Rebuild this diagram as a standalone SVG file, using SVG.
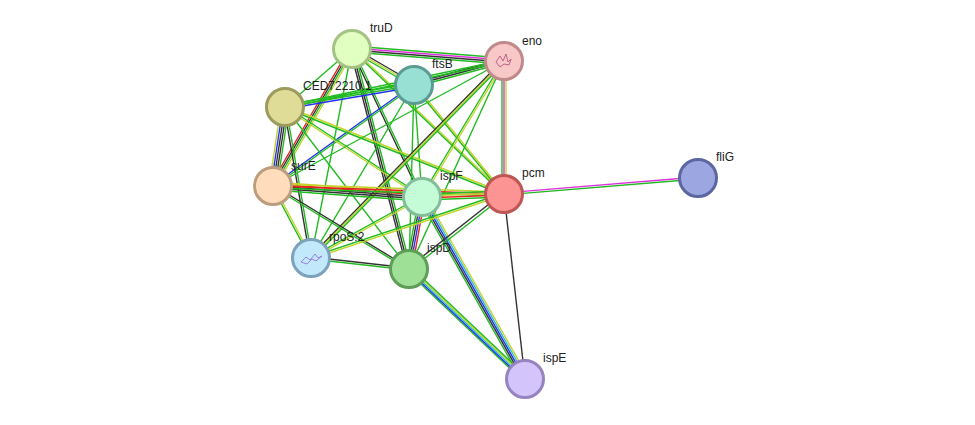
<svg xmlns="http://www.w3.org/2000/svg" xmlns:xlink="http://www.w3.org/1999/xlink" width="975" height="425" viewBox="0 0 975 425">
<style>
use{stroke-width:1.4;fill:none}
.g{stroke:#22bb22}.y{stroke:#c2d42a}.k{stroke:#333}.r{stroke:#e8221e}.b{stroke:#2233ee}.m{stroke:#dd33dd}.c{stroke:#33bbdd}
.node circle{stroke-width:3}
text{font-family:"Liberation Sans",Arial,sans-serif;font-size:12px;fill:#222}
</style>
<defs>
<line id="TE" x1="352" y1="49" x2="504" y2="61"/><line id="TF" x1="352" y1="49" x2="414" y2="85"/>
<line id="TC" x1="352" y1="49" x2="285" y2="107"/><line id="TS" x1="352" y1="49" x2="273" y2="186"/>
<line id="TI" x1="352" y1="49" x2="422" y2="197"/><line id="TD" x1="352" y1="49" x2="409" y2="269"/>
<line id="TR" x1="352" y1="49" x2="311" y2="258"/><line id="TP" x1="352" y1="49" x2="504" y2="194"/>
<line id="FE" x1="414" y1="85" x2="504" y2="61"/><line id="FC" x1="414" y1="85" x2="285" y2="107"/>
<line id="FS" x1="414" y1="85" x2="273" y2="186"/><line id="FI" x1="414" y1="85" x2="422" y2="197"/>
<line id="FP" x1="414" y1="85" x2="504" y2="194"/><line id="FR" x1="414" y1="85" x2="311" y2="258"/>
<line id="FD" x1="414" y1="85" x2="409" y2="269"/>
<line id="CE" x1="285" y1="107" x2="504" y2="61"/><line id="CS" x1="285" y1="107" x2="273" y2="186"/>
<line id="CI" x1="285" y1="107" x2="422" y2="197"/><line id="CP" x1="285" y1="107" x2="504" y2="194"/>
<line id="CR" x1="285" y1="107" x2="311" y2="258"/><line id="CD" x1="285" y1="107" x2="409" y2="269"/>
<line id="EP" x1="504" y1="61" x2="504" y2="194"/><line id="EI" x1="504" y1="61" x2="422" y2="197"/>
<line id="ER" x1="504" y1="61" x2="311" y2="258"/><line id="ED" x1="504" y1="61" x2="409" y2="269"/>
<line id="ES" x1="504" y1="61" x2="273" y2="186"/>
<line id="SI" x1="273" y1="186" x2="422" y2="197"/><line id="SP" x1="273" y1="186" x2="504" y2="194"/>
<line id="SR" x1="273" y1="186" x2="311" y2="258"/><line id="SD" x1="273" y1="186" x2="409" y2="269"/>
<line id="IP" x1="422" y1="197" x2="504" y2="194"/><line id="IR" x1="422" y1="197" x2="311" y2="258"/>
<line id="ID" x1="422" y1="197" x2="409" y2="269"/><line id="IX" x1="422" y1="197" x2="525" y2="379"/>
<line id="PD" x1="504" y1="194" x2="409" y2="269"/><line id="PR" x1="504" y1="194" x2="311" y2="258"/>
<line id="PG" x1="504" y1="194" x2="698" y2="178"/><line id="PX" x1="504" y1="194" x2="525" y2="379"/>
<line id="DX" x1="409" y1="269" x2="525" y2="379"/><line id="RD" x1="311" y1="258" x2="409" y2="269"/>
</defs>
<g id="edges">
<use href="#TE" class="g" transform="translate(0,-3)"/><use href="#TE" class="m" transform="translate(0,-1)"/><use href="#TE" class="k" transform="translate(0,1)"/><use href="#TE" class="g" transform="translate(0,3)"/>
<use href="#TF" class="k" transform="translate(0,-2)"/><use href="#TF" class="y"/><use href="#TF" class="g" transform="translate(0,2)"/>
<use href="#TC" class="g"/>
<use href="#TS" class="r" transform="translate(-3,0)"/><use href="#TS" class="k" transform="translate(-1,0)"/><use href="#TS" class="g" transform="translate(1,0)"/><use href="#TS" class="y" transform="translate(3,0)"/>
<use href="#TI" class="k" transform="translate(-1,0)"/><use href="#TI" class="g" transform="translate(1,0)"/>
<use href="#TD" class="k" transform="translate(-2,0)"/><use href="#TD" class="k"/><use href="#TD" class="g" transform="translate(2,0)"/>
<use href="#TR" class="g"/>
<use href="#TP" class="y" transform="translate(0,-1)"/><use href="#TP" class="g" transform="translate(0,1)"/>
<use href="#FE" class="k" transform="translate(0,-2)"/><use href="#FE" class="k"/><use href="#FE" class="g" transform="translate(0,2)"/>
<use href="#FC" class="g" transform="translate(0,-2)"/><use href="#FC" class="g"/><use href="#FC" class="b" transform="translate(0,2)"/>
<use href="#FS" class="b" transform="translate(0,-1)"/><use href="#FS" class="g" transform="translate(0,1)"/>
<use href="#FI" class="g"/>
<use href="#FP" class="g" transform="translate(-1,0)"/><use href="#FP" class="y" transform="translate(1,0)"/>
<use href="#FR" class="g"/><use href="#FD" class="g"/>
<use href="#CE" class="g" transform="translate(0,-1)"/><use href="#CE" class="g" transform="translate(0,1)"/>
<use href="#CS" class="y" transform="translate(-4,0)"/><use href="#CS" class="b" transform="translate(-2,0)"/><use href="#CS" class="k"/><use href="#CS" class="k" transform="translate(2,0)"/><use href="#CS" class="g" transform="translate(4,0)"/>
<use href="#CI" class="g" transform="translate(0,-1)"/><use href="#CI" class="y" transform="translate(0,1)"/>
<use href="#CP" class="y" transform="translate(0,-1)"/><use href="#CP" class="g" transform="translate(0,1)"/>
<use href="#CR" class="k" transform="translate(-1,0)"/><use href="#CR" class="g" transform="translate(1,0)"/>
<use href="#CD" class="g"/>
<use href="#EP" class="g" transform="translate(-2,0)"/><use href="#EP" class="m"/><use href="#EP" class="y" transform="translate(2,0)"/>
<use href="#EI" class="g" transform="translate(-1,0)"/><use href="#EI" class="y" transform="translate(1,0)"/>
<use href="#ER" class="k" transform="translate(-2,0)"/><use href="#ER" class="y"/><use href="#ER" class="g" transform="translate(2,0)"/>
<use href="#ED" class="g"/><use href="#ES" class="g"/>
<use href="#SI" class="y" transform="translate(0,-4)"/><use href="#SI" class="r" transform="translate(0,-2)"/><use href="#SI" class="k"/><use href="#SI" class="k" transform="translate(0,2)"/><use href="#SI" class="g" transform="translate(0,4)"/>
<use href="#SP" class="y" transform="translate(0,-2)"/><use href="#SP" class="r"/><use href="#SP" class="g" transform="translate(0,2)"/>
<use href="#SR" class="g" transform="translate(-1,0)"/><use href="#SR" class="y" transform="translate(1,0)"/>
<use href="#SD" class="k" transform="translate(0,-1)"/><use href="#SD" class="g" transform="translate(0,1)"/>
<use href="#IP" class="g" transform="translate(0,-3)"/><use href="#IP" class="y" transform="translate(0,-1)"/><use href="#IP" class="r" transform="translate(0,1)"/><use href="#IP" class="g" transform="translate(0,3)"/>
<use href="#IR" class="g" transform="translate(0,-1)"/><use href="#IR" class="y" transform="translate(0,1)"/>
<use href="#ID" class="g" transform="translate(-3,0)"/><use href="#ID" class="k" transform="translate(-1,0)"/><use href="#ID" class="b" transform="translate(1,0)"/><use href="#ID" class="r" transform="translate(3,0)"/>
<use href="#IX" class="g" transform="translate(-4,0)"/><use href="#IX" class="k" transform="translate(-2,0)"/><use href="#IX" class="b"/><use href="#IX" class="c" transform="translate(2,0)"/><use href="#IX" class="y" transform="translate(4,0)"/>
<use href="#PD" class="k" transform="translate(-1,-1)"/><use href="#PD" class="g" transform="translate(1,1)"/>
<use href="#PR" class="g" transform="translate(0,-1)"/><use href="#PR" class="y" transform="translate(0,1)"/>
<use href="#PG" class="m" transform="translate(0,-1)"/><use href="#PG" class="g" transform="translate(0,1)"/>
<use href="#PX" class="k"/>
<use href="#DX" class="g" transform="translate(-4,0)"/><use href="#DX" class="b" transform="translate(-2,0)"/><use href="#DX" class="c"/><use href="#DX" class="y" transform="translate(2,0)"/><use href="#DX" class="g" transform="translate(4,0)"/>
<use href="#RD" class="k" transform="translate(0,-1)"/><use href="#RD" class="g" transform="translate(0,1)"/>
</g>
<g id="truD" class="node"><circle cx="352" cy="49" r="18.5" fill="#e0ffc0" stroke="#a3c284"/><text x="370" y="32">truD</text></g>
<g id="eno" class="node"><circle cx="504" cy="61" r="18.5" fill="#f8c8c8" stroke="#c08a8a"/><path d="M496 62l4-6 3 5 3-7 2 8 3-3-2 6-5-1-4 3z" fill="none" stroke="#b04a7a" stroke-width="0.8"/><text x="522" y="45">eno</text></g>
<g id="ftsB" class="node"><circle cx="414" cy="85" r="18.5" fill="#98e0d4" stroke="#5a9c92"/><text x="432" y="68">ftsB</text></g>
<g id="CED72210.1" class="node"><circle cx="285" cy="107" r="18.5" fill="#dedc96" stroke="#9c9a5c"/><text x="303" y="90">CED72210.1</text></g>
<g id="surE" class="node"><circle cx="273" cy="186" r="18.5" fill="#ffdcbc" stroke="#bc9c7e"/><text x="291" y="170">surE</text></g>
<g id="ispF" class="node"><circle cx="422" cy="197" r="18.5" fill="#c4fcd8" stroke="#82be98"/><text x="440" y="180">ispF</text></g>
<g id="pcm" class="node"><circle cx="504" cy="194" r="18.5" fill="#fc9494" stroke="#be5656"/><text x="522" y="177">pcm</text></g>
<g id="fliG" class="node"><circle cx="698" cy="178" r="18.5" fill="#9ca6e0" stroke="#5c66a0"/><text x="716" y="161">fliG</text></g>
<g id="rpoS:2" class="node"><circle cx="311" cy="258" r="18.5" fill="#c2e8fc" stroke="#7ea2bc"/><path d="M301 262l5-5 4 3 5-6 3 4 4-2-6 5-4-2-5 5z" fill="none" stroke="#8a6ad4" stroke-width="0.8"/><text x="329" y="241">rpoS:2</text></g>
<g id="ispD" class="node"><circle cx="409" cy="269" r="18.5" fill="#9ee096" stroke="#5e9e58"/><text x="427" y="252">ispD</text></g>
<g id="ispE" class="node"><circle cx="525" cy="379" r="18.5" fill="#d4c4fc" stroke="#9684c0"/><text x="543" y="362">ispE</text></g>
</svg>
